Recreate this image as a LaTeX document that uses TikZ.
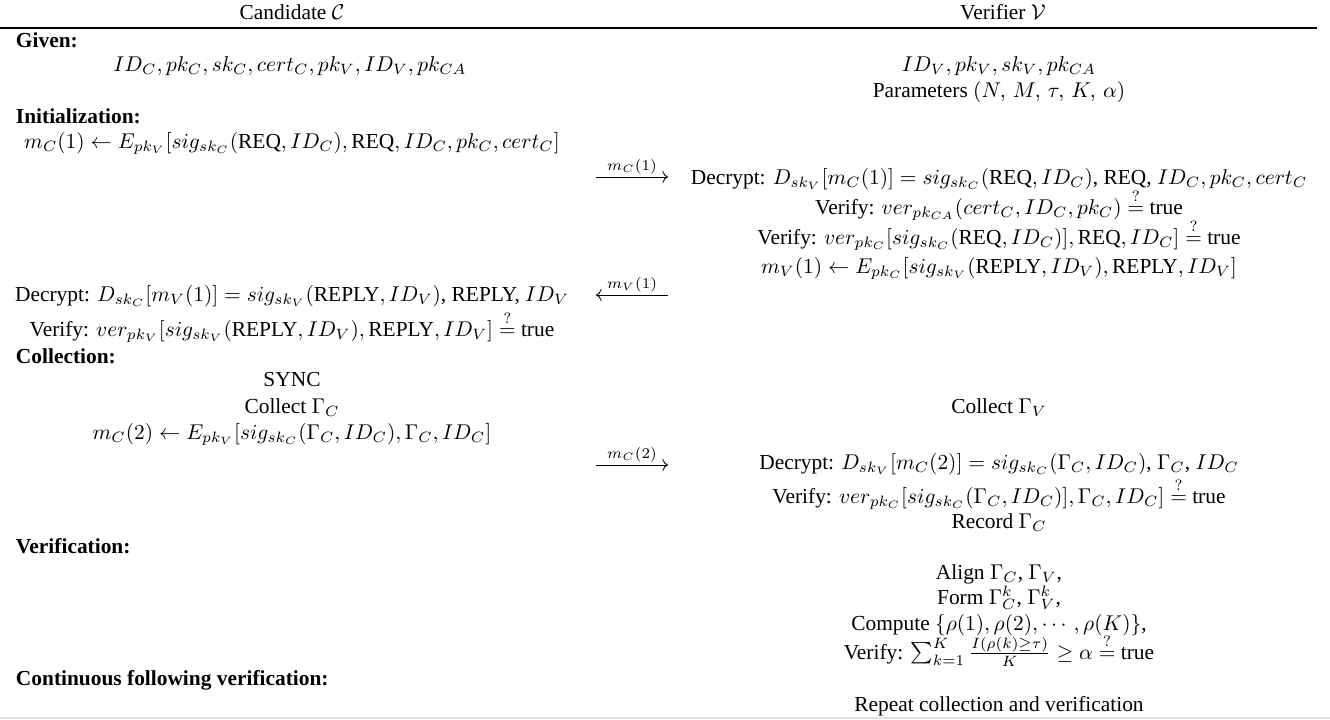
\documentclass[tikz,border=0pt]{standalone}
\usepackage{amsmath}
\usepackage[no-math]{fontspec}
\setmainfont{Liberation Serif}
\usetikzlibrary{arrows.meta}
\tikzset{
  txt/.style={anchor=base, inner sep=0pt, outer sep=0pt},
  hd/.style={anchor=base west, inner sep=0pt, outer sep=0pt, font=\bfseries},
  msg/.style={line width=0.4pt, -{To[length=2.6pt,width=5.5pt]}},
  msglbl/.style={above, inner sep=1.2pt},
  rulestyle/.style={line width=0.6pt, black},
}
\begin{document}
\begin{tikzpicture}[x=0.4675pt, y=-0.4675pt]
\fill[white] (0,0) rectangle (1330,719);
\useasboundingbox (0,0) rectangle (1330,719);
% headers
\node[txt] (hC) at (292,19) {Candidate $\mathcal{C}$};
\node[txt] (hV) at (1003,19) {Verifier $\mathcal{V}$};
\coordinate (ruleL) at (0,28);
\coordinate (ruleR) at (1317,28);
\draw[rulestyle] (ruleL) -- (ruleR);
% Given
\node[hd] (given) at (16,47) {Given:};
\node[txt] (gC) at (290,71) {$ID_C, pk_C, sk_C, cert_C, pk_V, ID_V, pk_{CA}$};
\node[txt] (gV1) at (999,71) {$ID_V, pk_V, sk_V, pk_{CA}$};
\node[txt] (gV2) at (999,97) {Parameters $(N,\, M,\, \tau,\, K,\, \alpha)$};
% Initialization
\node[hd] (init) at (16,123) {Initialization:};
\node[txt] (i1) at (292,148) {$m_C(1) \leftarrow E_{pk_V}[sig_{sk_C}(\text{REQ}, ID_C), \text{REQ}, ID_C, pk_C, cert_C]$};
\coordinate (a1s) at (596,177);
\coordinate (a1e) at (668,177);
\draw[msg] (a1s) -- node[msglbl] (a1l) {$\scriptstyle m_C(1)$} (a1e);
\node[txt] (v1) at (999,184) {Decrypt: $D_{sk_V}[m_C(1)] = sig_{sk_C}(\text{REQ}, ID_C)$, REQ, $ID_C, pk_C, cert_C$};
\node[txt] (v2) at (999,214) {Verify: $ver_{pk_{CA}}(cert_C, ID_C, pk_C) \stackrel{?}{=}$ true};
\node[txt] (v3) at (999,244) {Verify: $ver_{pk_C}[sig_{sk_C}(\text{REQ}, ID_C)], \text{REQ}, ID_C] \stackrel{?}{=}$ true};
\node[txt] (v4) at (999,273) {$m_V(1) \leftarrow E_{pk_C}[sig_{sk_V}(\text{REPLY}, ID_V), \text{REPLY}, ID_V]$};
\node[txt] (c1) at (292,301) {Decrypt: $D_{sk_C}[m_V(1)] = sig_{sk_V}(\text{REPLY}, ID_V)$, REPLY, $ID_V$};
\coordinate (a2s) at (668,295);
\coordinate (a2e) at (596,295);
\draw[msg] (a2s) -- node[msglbl] (a2l) {$\scriptstyle m_V(1)$} (a2e);
\node[txt] (c2) at (292,336) {Verify: $ver_{pk_V}[sig_{sk_V}(\text{REPLY}, ID_V), \text{REPLY}, ID_V] \stackrel{?}{=}$ true};
% Collection
\node[hd] (coll) at (16,363) {Collection:};
\node[txt] (c3) at (292,386) {SYNC};
\node[txt] (c4) at (292,413) {Collect $\Gamma_C$};
\node[txt] (v5) at (999,413) {Collect $\Gamma_V$};
\node[txt] (c5) at (292,439) {$m_C(2) \leftarrow E_{pk_V}[sig_{sk_C}(\Gamma_C, ID_C), \Gamma_C, ID_C]$};
\coordinate (a3s) at (596,465);
\coordinate (a3e) at (668,465);
\draw[msg] (a3s) -- node[msglbl] (a3l) {$\scriptstyle m_C(2)$} (a3e);
\node[txt] (v6) at (999,469) {Decrypt: $D_{sk_V}[m_C(2)] = sig_{sk_C}(\Gamma_C, ID_C)$, $\Gamma_C$, $ID_C$};
\node[txt] (v7) at (999,503) {Verify: $ver_{pk_C}[sig_{sk_C}(\Gamma_C, ID_C)], \Gamma_C, ID_C] \stackrel{?}{=}$ true};
\node[txt] (v8) at (999,528) {Record $\Gamma_C$};
% Verification
\node[hd] (verif) at (16,553) {Verification:};
\node[txt] (v9) at (999,579) {Align $\Gamma_C$, $\Gamma_V$,};
\node[txt] (v10) at (999,604) {Form $\Gamma^k_C$, $\Gamma^k_V$,};
\node[txt] (v11) at (999,630) {Compute $\{\rho(1), \rho(2), \cdots, \rho(K)\}$,};
\node[txt] (v12) at (999,659) {Verify: $\sum_{k=1}^{K} \frac{I(\rho(k)\geq\tau)}{K} \geq \alpha \stackrel{?}{=}$ true};
% Continuous
\node[hd] (cont) at (16,685) {Continuous following verification:};
\node[txt] (v13) at (999,711) {Repeat collection and verification};
\coordinate (botL) at (0,718);
\coordinate (botR) at (1330,718);
\draw[gray!25, line width=0.5pt] (botL) -- (botR);
\end{tikzpicture}
\end{document}
